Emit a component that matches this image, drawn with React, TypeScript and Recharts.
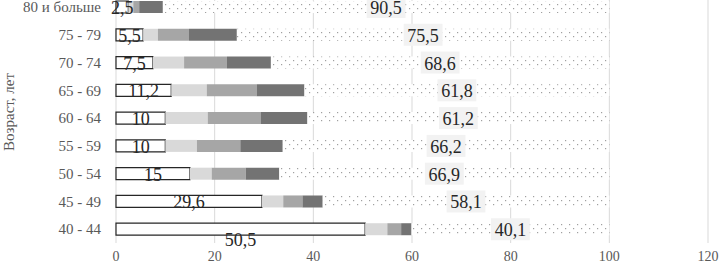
import React from "react";
import { BarChart, Bar, XAxis, YAxis, CartesianGrid, LabelList } from "recharts";

const categories = ["40 - 44", "45 - 49", "50 - 54", "55 - 59", "60 - 64", "65 - 69", "70 - 74", "75 - 79", "80 и больше"];
const seriesWhite = [50.5, 29.6, 15, 10, 10, 11.2, 7.5, 5.5, 2.5];
const seriesLight = [4.5, 4.3, 4.4, 6.4, 8.6, 7.2, 6.3, 3.0, 1.0];
const seriesMedium = [2.8, 3.9, 6.9, 8.8, 10.7, 10.1, 8.7, 6.3, 1.2];
const seriesDark = [2.1, 4.1, 6.8, 8.6, 9.5, 9.7, 8.9, 9.7, 4.8];
const seriesDotted = [40.1, 58.1, 66.9, 66.2, 61.2, 61.8, 68.6, 75.5, 90.5];
const xTicks = [0, 20, 40, 60, 80, 100, 120];

const data = categories.map((c, i) => ({
  cat: c,
  w: seriesWhite[i],
  l: seriesLight[i],
  m: seriesMedium[i],
  d: seriesDark[i],
  p: seriesDotted[i],
}));

const fmt = (v: number) => String(v).replace(".", ",");

const WhiteLabel = (props: any) => {
  const { x, y, width, height, value, index } = props;
  const cx = x + width / 2;
  const cy = y + height / 2 + (index === 0 ? 11 : 1);
  return (
    <text x={cx} y={cy} textAnchor="middle" dominantBaseline="central" fontFamily="'Liberation Serif', serif" fontSize={18} fill="#262626">
      {fmt(value)}
    </text>
  );
};

const BoxLabel = (props: any) => {
  const { x, y, width, height, value } = props;
  const cx = x + width / 2;
  const cy = y + height / 2;
  const s = fmt(value);
  const w = s.length * 8.2 + 6;
  return (
    <g>
      <rect x={cx - w / 2} y={cy - 11} width={w} height={22} fill="#f2f2f2" />
      <text x={cx} y={cy + 1} textAnchor="middle" dominantBaseline="central" fontFamily="'Liberation Serif', serif" fontSize={18} fill="#262626">
        {s}
      </text>
    </g>
  );
};

export default function App() {
  return (
    <div style={{ position: "absolute", left: 0, top: -17 }}>
      <BarChart
        width={726}
        height={290}
        data={data}
        layout="vertical"
        margin={{ top: 10, right: 18, left: 0, bottom: 0 }}
        barSize={12}
      >
        <defs>
          <pattern id="dots" width="8" height="8" patternUnits="userSpaceOnUse">
            <rect width="8" height="8" fill="#ffffff" />
            <rect x="1" y="1" width="1.2" height="1.2" fill="#a0a0a0" />
            <rect x="5" y="5" width="1.2" height="1.2" fill="#a0a0a0" />
          </pattern>
        </defs>
        <CartesianGrid horizontal={false} stroke="#d9d9d9" />
        <XAxis
          type="number"
          domain={[0, 120]}
          ticks={xTicks}
          axisLine={false}
          tickLine={false}
          tick={{ fontFamily: "'Liberation Serif', serif", fontSize: 14, fill: "#595959" }}
          height={30}
        />
        <YAxis
          type="category"
          dataKey="cat"
          reversed
          width={116}
          axisLine={false}
          tickLine={false}
          tickSize={0}
          tickMargin={15}
          interval={0}
          tick={{ fontFamily: "'Liberation Serif', serif", fontSize: 15, fill: "#595959" }}
          label={{
            value: "Возраст, лет",
            angle: -90,
            position: "insideLeft",
            dx: 4,
            dy: -6,
            style: { fontFamily: "'Liberation Serif', serif", fontSize: 15, fill: "#595959", textAnchor: "middle" },
          }}
        />
        <Bar dataKey="w" stackId="a" fill="#ffffff" stroke="#262626" strokeWidth={1.2} isAnimationActive={false}>
          <LabelList dataKey="w" content={WhiteLabel} />
        </Bar>
        <Bar dataKey="l" stackId="a" fill="#d9d9d9" isAnimationActive={false} />
        <Bar dataKey="m" stackId="a" fill="#a6a6a6" isAnimationActive={false} />
        <Bar dataKey="d" stackId="a" fill="#737373" isAnimationActive={false} />
        <Bar dataKey="p" stackId="a" fill="url(#dots)" isAnimationActive={false}>
          <LabelList dataKey="p" content={BoxLabel} />
        </Bar>
      </BarChart>
    </div>
  );
}
